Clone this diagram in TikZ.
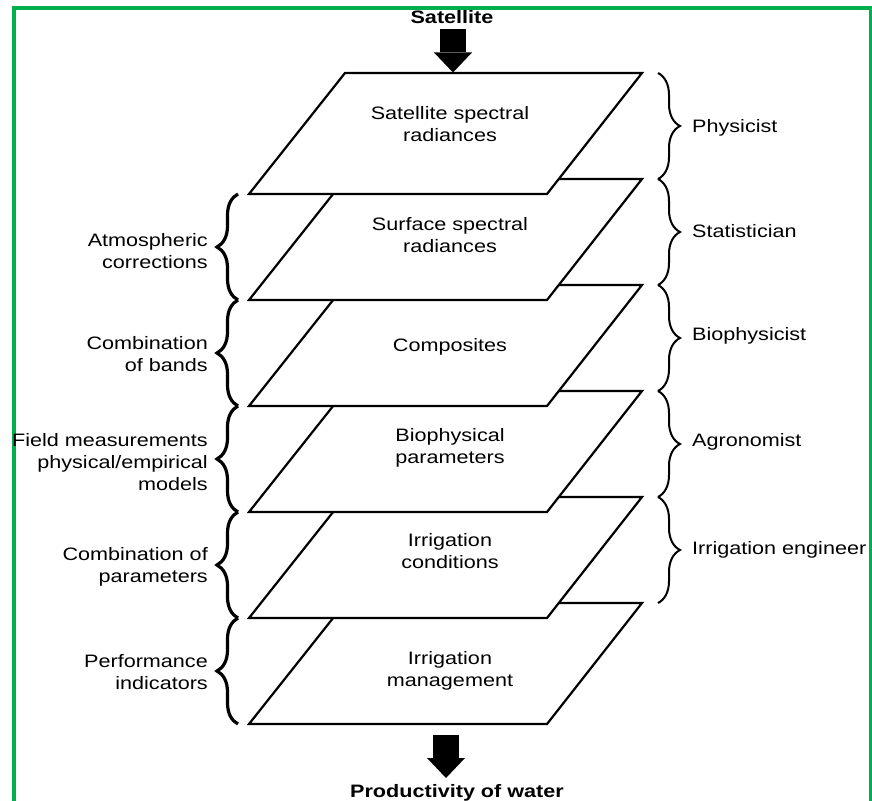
\documentclass[tikz,border=0pt]{standalone}
\usepackage{fontspec}
\setmainfont[FakeStretch=1.2]{Liberation Sans}
\usetikzlibrary{
    decorations.pathreplacing,
    arrows.meta
}
\definecolor{framegreen}{RGB}{0,176,80}
\tikzset{layer/.style={draw=black, fill=white, line width=2.2pt, line join=miter}}
\tikzset{lay/.style={align=center, anchor=north, inner sep=0pt, font=\fontsize{18}{22}\selectfont}}
\tikzset{lft/.style={align=right, anchor=north east, inner sep=0pt, font=\fontsize{18}{22}\selectfont}}
\tikzset{rgt/.style={anchor=base west, inner sep=0pt, font=\fontsize{18}{22}\selectfont}}
\tikzset{ttl/.style={anchor=base, inner sep=0pt, font=\fontsize{18}{22}\selectfont\bfseries}}
\tikzset{lbr/.style={decorate, decoration={brace, amplitude=21pt}, line width=3.2pt}}
\tikzset{rbr/.style={decorate, decoration={brace, amplitude=22pt}, line width=2pt}}
\tikzset{fat/.style={line width=26pt, -{Triangle[length=20pt, width=38pt, line width=0pt]}}}

\begin{document}
\begin{tikzpicture}[x=1pt, y=-1pt]
    \useasboundingbox (0,0) rectangle (872,800);

    % green frame
    \draw[framegreen, line width=4pt] (13.7,805) -- (13.7,8) -- (870.5,8) -- (870.5,805);

    % stack of layers, lowest first
    \draw[layer] (345,603) -- (642,603) -- (547,724) -- (249,724) -- cycle;
    \draw[layer] (345,497) -- (642,497) -- (547,618) -- (249,618) -- cycle;
    \draw[layer] (345,391) -- (642,391) -- (547,512) -- (249,512) -- cycle;
    \draw[layer] (345,285) -- (642,285) -- (547,406) -- (249,406) -- cycle;
    \draw[layer] (345,179) -- (642,179) -- (547,300) -- (249,300) -- cycle;
    \draw[layer] (345,73) -- (642,73) -- (547,194) -- (249,194) -- cycle;

    \node[lay] (rad) at (450,106.5) {Satellite spectral\\radiances};
    \node[lay] (srf) at (450,217.5) {Surface spectral\\radiances};
    \node[lay] (cmp) at (450,338.5) {Composites};
    \node[lay] (bio) at (450,428.5) {Biophysical\\parameters};
    \node[lay] (irc) at (450,533.5) {Irrigation\\conditions};
    \node[lay] (irm) at (450,651.5) {Irrigation\\management};

    % input and output
    \node[ttl] (sat) at (452,24) {Satellite};
    \node[ttl] (prod) at (457,797) {Productivity of water};
    \coordinate (sats) at (453,29);
    \coordinate (satt) at (453,72.5);
    \coordinate (outs) at (446,735);
    \coordinate (outt) at (446,778);
    \draw[fat] (sats) -- (satt);
    \draw[fat] (outs) -- (outt);

    % left braces
    \draw[lbr] (238,300) -- (238,194);
    \draw[lbr] (238,406) -- (238,300);
    \draw[lbr] (238,512) -- (238,406);
    \draw[lbr] (238,618) -- (238,512);
    \draw[lbr] (238,724) -- (238,618);

    \node[lft] (atm) at (208,233.5) {Atmospheric\\corrections};
    \node[lft] (cob) at (208,336.5) {Combination\\of bands};
    \node[lft] (fld) at (208,433.5) {Field measurements\\physical/empirical\\models};
    \node[lft] (cop) at (208,547.5) {Combination of\\parameters};
    \node[lft] (prf) at (208,654.5) {Performance\\indicators};

    % right braces
    \draw[rbr] (658,73) -- (658,179);
    \draw[rbr] (658,179) -- (658,285);
    \draw[rbr] (658,285) -- (658,391);
    \draw[rbr] (658,391) -- (658,497);
    \draw[rbr] (658,497) -- (658,603);

    \node[rgt] (phy) at (692,132.5) {Physicist};
    \node[rgt] (sta) at (692,237.5) {Statistician};
    \node[rgt] (bph) at (692,340.5) {Biophysicist};
    \node[rgt] (agr) at (692,446.5) {Agronomist};
    \node[rgt] (ire) at (692,554.5) {Irrigation engineer};
\end{tikzpicture}
\end{document}
